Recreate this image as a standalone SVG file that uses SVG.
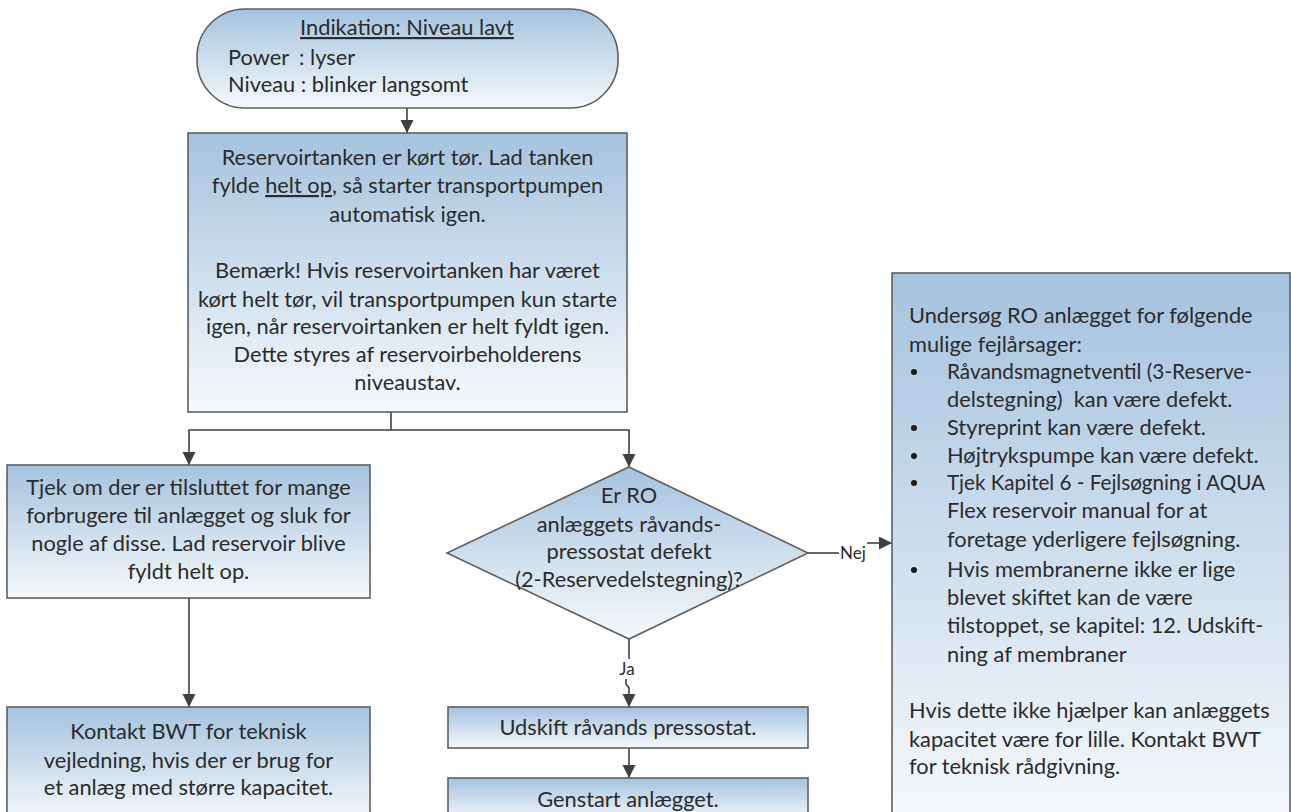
<svg xmlns="http://www.w3.org/2000/svg" width="1291" height="812" viewBox="0 0 1291 812">
<defs>
<linearGradient id="g" x1="0" y1="0" x2="0" y2="1">
<stop offset="0" stop-color="#a5c3de"/>
<stop offset="1" stop-color="#f6f9fc"/>
</linearGradient>
<marker id="ah" markerWidth="14" markerHeight="14" refX="13" refY="6.5" orient="auto" markerUnits="userSpaceOnUse">
<path d="M0,0 L13,6.5 L0,13 Z" fill="#3f3f3f"/>
</marker>
<style>
.box{fill:url(#g);stroke:#5f5f5f;stroke-width:1.6}
.t{font-family:Lato,"Liberation Sans",sans-serif;font-size:21.8px;fill:#2b2b2b}
.c{text-anchor:middle}
.lbl{font-family:Lato,"Liberation Sans",sans-serif;font-size:17px;fill:#2b2b2b}
.ln{fill:none;stroke:#404040;stroke-width:1.6}
.arr{fill:none;stroke:#404040;stroke-width:1.6;marker-end:url(#ah)}
</style>
</defs>
<rect width="1291" height="812" fill="#ffffff"/>
<g id="connectors">
<line class="arr" x1="407" y1="108" x2="407" y2="133"/>
<polyline class="ln" points="391,412 391,430"/>
<polyline class="arr" points="391,430 189,430 189,465"/>
<polyline class="arr" points="391,430 629,430 629,467"/>
<line class="arr" x1="189" y1="598" x2="189" y2="707"/>
<line class="ln" x1="808" y1="553" x2="839" y2="553"/>
<line class="arr" x1="867" y1="543" x2="892" y2="543"/>
<text class="lbl" x="853" y="559" text-anchor="middle">Nej</text>
<line class="ln" x1="629" y1="639" x2="629" y2="659"/>
<text class="lbl" x="627" y="675" text-anchor="middle">Ja</text>
<polyline class="arr" points="626,679 626,684 629,688 629,707"/>
<line class="arr" x1="629" y1="748" x2="629" y2="778"/>
</g>
<g id="start">
<rect class="box" x="197" y="9" width="421" height="99" rx="48" ry="48"/>
<text class="t c" x="407" y="35" text-decoration="underline">Indikation: Niveau lavt</text>
<text class="t" x="228" y="65">Power</text>
<text class="t" x="299" y="65">: lyser</text>
<text class="t" x="228" y="92">Niveau : blinker langsomt</text>
</g>
<g id="tank">
<rect class="box" x="188" y="133" width="439" height="279"/>
<text class="t c" x="407.5" y="165">Reservoirtanken er kørt tør. Lad tanken</text>
<text class="t c" x="407.5" y="193">fylde <tspan text-decoration="underline">helt op</tspan>, så starter transportpumpen</text>
<text class="t c" x="407.5" y="222">automatisk igen.</text>
<text class="t c" x="407.5" y="278">Bemærk! Hvis reservoirtanken har været</text>
<text class="t c" x="407.5" y="307">kørt helt tør, vil transportpumpen kun starte</text>
<text class="t c" x="407.5" y="334">igen, når reservoirtanken er helt fyldt igen.</text>
<text class="t c" x="407.5" y="362">Dette styres af reservoirbeholderens</text>
<text class="t c" x="407.5" y="390">niveaustav.</text>
</g>
<g id="check">
<rect class="box" x="7" y="465" width="363" height="133"/>
<text class="t c" x="188.5" y="495">Tjek om der er tilsluttet for mange</text>
<text class="t c" x="188.5" y="523">forbrugere til anlægget og sluk for</text>
<text class="t c" x="188.5" y="551">nogle af disse. Lad reservoir blive</text>
<text class="t c" x="188.5" y="579">fyldt helt op.</text>
</g>
<g id="contact">
<rect class="box" x="7" y="707" width="363" height="115"/>
<text class="t c" x="188.5" y="739">Kontakt BWT for teknisk</text>
<text class="t c" x="188.5" y="768">vejledning, hvis der er brug for</text>
<text class="t c" x="188.5" y="795">et anlæg med større kapacitet.</text>
</g>
<g id="decision">
<polygon class="box" points="629,467 808,553 629,639 447,553"/>
<text class="t c" x="629" y="503">Er RO</text>
<text class="t c" x="629" y="532">anlæggets råvands-</text>
<text class="t c" x="629" y="559">pressostat defekt</text>
<text class="t c" x="629" y="587">(2-Reservedelstegning)?</text>
</g>
<g id="replace">
<rect class="box" x="448" y="707" width="360" height="41"/>
<text class="t c" x="628" y="735">Udskift råvands pressostat.</text>
</g>
<g id="restart">
<rect class="box" x="448" y="778" width="360" height="44"/>
<text class="t c" x="628" y="807">Genstart anlægget.</text>
</g>
<g id="investigate">
<rect class="box" x="892" y="273" width="398" height="549"/>
<text class="t" x="909" y="323">Undersøg RO anlægget for følgende</text>
<text class="t" x="909" y="352">mulige fejlårsager:</text>
<g fill="#1a1a1a">
<circle cx="914" cy="372" r="3"/>
<circle cx="914" cy="428" r="3"/>
<circle cx="914" cy="456" r="3"/>
<circle cx="914" cy="483" r="3"/>
<circle cx="914" cy="570" r="3"/>
</g>
<text class="t" x="947" y="379" textLength="305" lengthAdjust="spacingAndGlyphs">Råvandsmagnetventil (3-Reserve-</text>
<text class="t" x="947" y="407" style="white-space:pre">delstegning)  kan være defekt.</text>
<text class="t" x="947" y="435">Styreprint kan være defekt.</text>
<text class="t" x="947" y="463">Højtrykspumpe kan være defekt.</text>
<text class="t" x="947" y="490" textLength="318" lengthAdjust="spacingAndGlyphs">Tjek Kapitel 6 - Fejlsøgning i AQUA</text>
<text class="t" x="947" y="518">Flex reservoir manual for at</text>
<text class="t" x="947" y="547">foretage yderligere fejlsøgning.</text>
<text class="t" x="947" y="577">Hvis membranerne ikke er lige</text>
<text class="t" x="947" y="605">blevet skiftet kan de være</text>
<text class="t" x="947" y="633">tilstoppet, se kapitel: 12. Udskift-</text>
<text class="t" x="947" y="662">ning af membraner</text>
<text class="t" x="909" y="718">Hvis dette ikke hjælper kan anlæggets</text>
<text class="t" x="909" y="747">kapacitet være for lille. Kontakt BWT</text>
<text class="t" x="909" y="774">for teknisk rådgivning.</text>
</g>
</svg>
